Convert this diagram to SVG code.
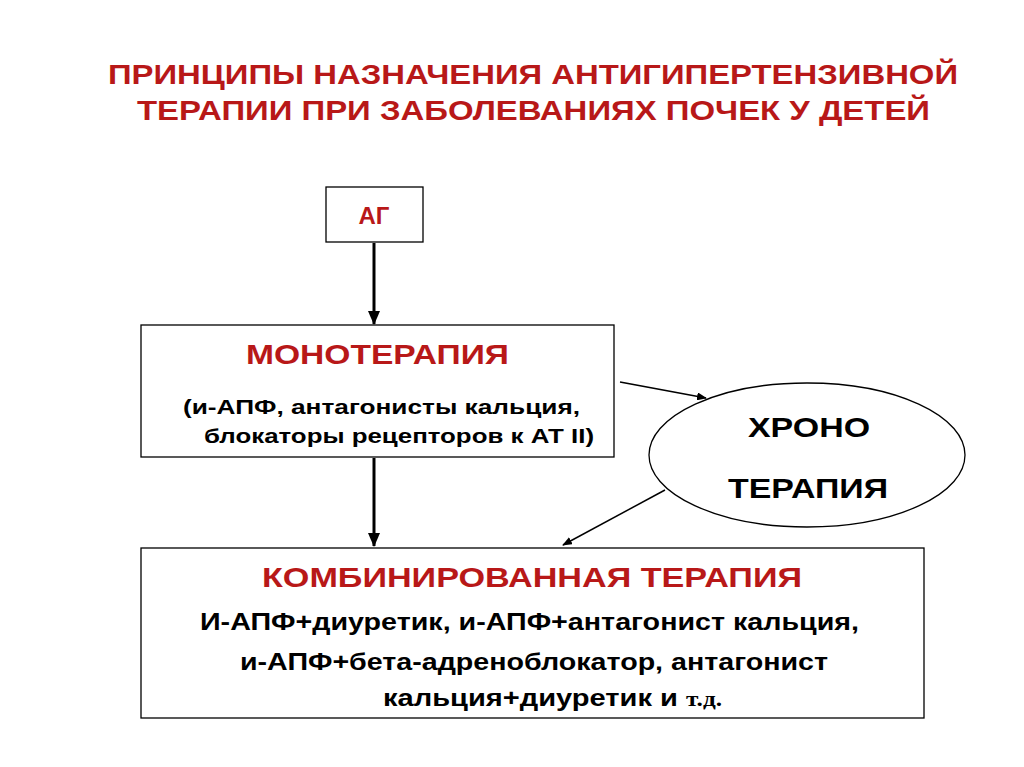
<svg xmlns="http://www.w3.org/2000/svg" width="1024" height="767" viewBox="0 0 1024 767">
<style>
.b{fill:#fff;stroke:#000;stroke-width:1.3}
.t{font-family:"Liberation Sans",Arial,sans-serif;font-weight:bold}
.r{fill:#b81818}
.c{stroke:#000;fill:none}
</style>
<defs><marker id="a" markerWidth="10" markerHeight="8" refX="9" refY="4" orient="auto" markerUnits="userSpaceOnUse"><path d="M0,0L10,4L0,8z" fill="#000"/></marker>
<marker id="a2" markerWidth="14" markerHeight="12" refX="13" refY="6" orient="auto" markerUnits="userSpaceOnUse"><path d="M0,0L14,6L0,12z" fill="#000"/></marker></defs>
<rect width="1024" height="767" fill="#fff"/>
<g id="title" class="t r" font-size="28" lengthAdjust="spacingAndGlyphs"><text x="108" y="84" textLength="850" lengthAdjust="spacingAndGlyphs">ПРИНЦИПЫ НАЗНАЧЕНИЯ АНТИГИПЕРТЕНЗИВНОЙ</text><text x="137" y="120" textLength="793" lengthAdjust="spacingAndGlyphs">ТЕРАПИИ ПРИ ЗАБОЛЕВАНИЯХ ПОЧЕК У ДЕТЕЙ</text></g>
<g id="ag"><rect class="b" x="326" y="187" width="97" height="55"/><text class="t r" x="374" y="224" font-size="24" font-family="Liberation Serif" text-anchor="middle">АГ</text></g>
<g id="mono"><rect class="b" x="141" y="325" width="473" height="132"/>
<text class="t r" x="246" y="364" font-size="28" textLength="263" lengthAdjust="spacingAndGlyphs">МОНОТЕРАПИЯ</text>
<text class="t" x="183" y="414" font-size="21" textLength="397" lengthAdjust="spacingAndGlyphs">(и-АПФ, антагонисты кальция,</text>
<text class="t" x="204" y="443" font-size="21" textLength="390" lengthAdjust="spacingAndGlyphs">блокаторы рецепторов к АТ II)</text></g>
<g id="chrono"><ellipse class="b" cx="807" cy="455" rx="158" ry="72"/>
<text class="t" x="748" y="437" font-size="28" font-weight="normal" textLength="122" lengthAdjust="spacingAndGlyphs">ХРОНО</text>
<text class="t" x="728" y="498" font-size="28" font-weight="normal" textLength="160" lengthAdjust="spacingAndGlyphs">ТЕРАПИЯ</text></g>
<g id="combo"><rect class="b" x="141" y="548" width="783" height="170"/>
<text class="t r" x="262" y="587" font-size="28" textLength="540" lengthAdjust="spacingAndGlyphs">КОМБИНИРОВАННАЯ ТЕРАПИЯ</text>
<text class="t" x="200" y="630" font-size="23" textLength="659" lengthAdjust="spacingAndGlyphs">И-АПФ+диуретик, и-АПФ+антагонист кальция,</text>
<text class="t" x="240" y="670" font-size="23" textLength="588" lengthAdjust="spacingAndGlyphs">и-АПФ+бета-адреноблокатор, антагонист</text>
<text class="t" x="383" y="706" font-size="23" textLength="339" lengthAdjust="spacingAndGlyphs">кальция+диуретик и <tspan font-family="Liberation Serif" font-size="20">т.д.</tspan></text></g>
<g id="connectors">
<line class="c" x1="374" y1="243" x2="374" y2="324" stroke-width="3" marker-end="url(#a2)"/>
<line class="c" x1="374" y1="458" x2="374" y2="546" stroke-width="3" marker-end="url(#a2)"/>
<line class="c" x1="620" y1="382" x2="706" y2="398" stroke-width="1.5" marker-end="url(#a)"/>
<line class="c" x1="665" y1="490" x2="563" y2="545" stroke-width="1.5" marker-end="url(#a)"/>
</g>
</svg>
